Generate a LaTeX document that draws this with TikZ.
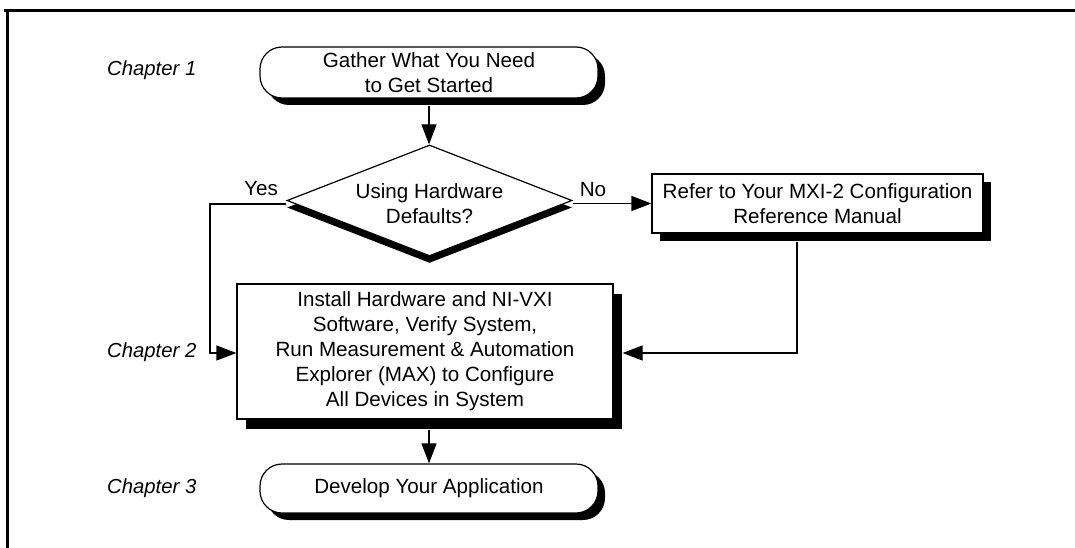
\documentclass[tikz,border=0pt]{standalone}
\usepackage{fontspec}
\setmainfont{Liberation Sans}
\usetikzlibrary{shapes.geometric,shadows,arrows.meta}
\begin{document}
\begin{tikzpicture}[x=1pt,y=-1pt,
  txt/.style={font=\fontsize{20.6}{25}\selectfont, align=center},
  chap/.style={font=\fontsize{20.3}{25}\selectfont\itshape, anchor=west, inner sep=0},
  lbl/.style={font=\fontsize{20.6}{25}\selectfont, inner sep=0},
  term/.style={txt, draw, line width=1.2pt, fill=white, rounded corners=22pt, inner sep=0,
    drop shadow={shadow xshift=7pt, shadow yshift=-7pt, fill=black, opacity=1}},
  procbox/.style={txt, draw, line width=1.2pt, fill=white, inner sep=0},
  arr/.style={line width=1.2pt, -{Triangle[length=20pt,width=15pt]}}
]
\fill[white] (0,0) rectangle (1075,548);
\useasboundingbox (0,0) rectangle (1075,548);
% frame
\draw[line width=3pt] (4,11) -- (1075,11);
\draw[line width=2.5pt] (7.5,11) -- (7.5,548);

% chapter labels
\node[chap] (ch1) at (107,70) {Chapter 1};
\node[chap] (ch2) at (107,352) {Chapter 2};
\node[chap] (ch3) at (107,488) {Chapter 3};

% nodes
\node[term, minimum width=338pt, minimum height=51pt] (start) at (429,72.5) {Gather What You Need\\to Get Started};
\node[draw, line width=1.2pt, fill=white, diamond, inner sep=0, minimum width=285pt, minimum height=111pt,
  drop shadow={shadow xshift=0pt, shadow yshift=-7pt, fill=black, opacity=1}] (dec) at (429.5,200.5) {};
\node[txt] (dectxt) at (429.5,204) {Using Hardware\\Defaults?};
\node[procbox, minimum width=331pt, minimum height=59pt,
  drop shadow={shadow xshift=8pt, shadow yshift=-8pt, fill=black, opacity=1}] (refer) at (817.5,203.5) {Refer to Your MXI-2 Configuration\\Reference Manual};
\node[procbox, minimum width=376pt, minimum height=135pt,
  drop shadow={shadow xshift=9pt, shadow yshift=-10pt, fill=black, opacity=1}] (install) at (425,351.5)
  {Install Hardware and NI-VXI\\Software, Verify System,\\Run Measurement \& Automation\\Explorer (MAX) to Configure\\All Devices in System};
\node[term, minimum width=338pt, minimum height=49pt] (end) at (429,488.5) {Develop Your Application};

% labels
\node[lbl] (yes) at (261,189) {Yes};
\node[lbl] (no) at (593,190) {No};

% connectors
\coordinate (yc) at (210,204);
\coordinate (rc) at (797,353);
\draw[arr] ([yshift=-7pt]start.south) -- (start.south |- dec.north);
\draw[arr] (dec.east |- refer.west) -- (refer.west);
\draw[arr] (dec.west |- yc) -- (yc) |- (install.west |- rc);
\draw[arr] ([yshift=-8pt]refer.south -| rc) -- (rc) -- ([xshift=9pt]install.east |- rc);
\draw[arr] ([yshift=-10pt]install.south -| end.north) -- (end.north);
\end{tikzpicture}
\end{document}
